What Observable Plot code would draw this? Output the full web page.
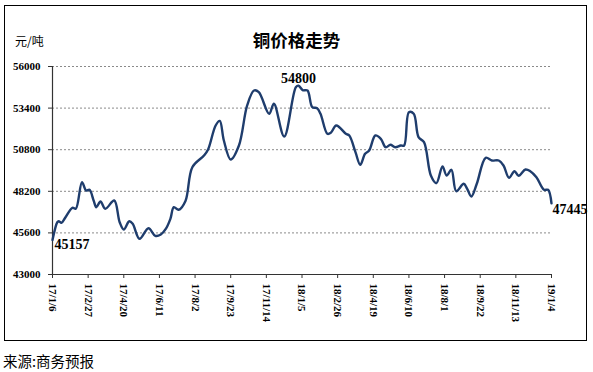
<!DOCTYPE html>
<html>
<head>
<meta charset="utf-8">
<script src="https://cdn.jsdelivr.net/npm/d3@7"></script>
<script src="https://cdn.jsdelivr.net/npm/@observablehq/plot@0.6"></script>
<style>
  html, body { margin: 0; padding: 0; background: #fff; }
  #wrap { position: relative; width: 593px; height: 372px; overflow: hidden; }
  #frame { position: absolute; left: 4px; top: 5px; width: 583px; height: 336px; box-sizing: border-box; border: 1.5px solid #000; pointer-events: none; }
  #chart { position: absolute; left: 0; top: 0; }
  #title { position: absolute; left: 0; width: 593px; top: 30px; text-align: center; font-family: "Noto Sans CJK SC", sans-serif; font-weight: bold; font-size: 17.5px; line-height: 20px; color: #000; }
  #unit { position: absolute; left: 15px; top: 33px; font-family: "Noto Sans CJK SC", sans-serif; font-size: 12px; line-height: 16px; color: #000; }
  #caption { position: absolute; left: 3px; top: 351px; font-family: "Noto Sans CJK SC", sans-serif; font-size: 14.5px; line-height: 20px; color: #000; }
</style>
</head>
<body>
<div id="wrap">
  <div id="chart"></div>
  <div id="title">铜价格走势</div>
  <div id="unit">元/吨</div>
  <div id="frame"></div>
  <div id="caption">来源:商务预报</div>
</div>
<script>
// ---- data ----
const dates = [
  "2017-01-06","2017-01-13","2017-01-15","2017-01-19","2017-01-25","2017-02-04","2017-02-09","2017-02-18",
  "2017-02-24","2017-03-01","2017-03-07","2017-03-11","2017-03-17","2017-03-24","2017-04-06","2017-04-14",
  "2017-04-20","2017-04-28","2017-05-03","2017-05-13","2017-05-26","2017-06-05","2017-06-13","2017-06-20",
  "2017-06-27","2017-07-02","2017-07-09","2017-07-19","2017-07-29","2017-08-15","2017-08-21","2017-09-01",
  "2017-09-07","2017-09-13","2017-09-23","2017-10-05","2017-10-17","2017-10-27","2017-11-03","2017-11-18",
  "2017-11-25","2017-12-10","2017-12-27","2017-12-31","2018-01-06","2018-01-13","2018-01-20","2018-01-27",
  "2018-02-01","2018-02-11","2018-02-16","2018-02-24","2018-03-10","2018-03-15","2018-03-24","2018-03-31",
  "2018-04-07","2018-04-13","2018-04-22","2018-04-30","2018-05-07","2018-05-14","2018-05-21","2018-05-29",
  "2018-06-03","2018-06-10","2018-06-17","2018-06-24","2018-07-02","2018-07-12","2018-07-20","2018-07-29",
  "2018-08-04","2018-08-11","2018-08-18","2018-08-29","2018-09-03","2018-09-09","2018-09-17","2018-09-30",
  "2018-10-09","2018-10-19","2018-10-26","2018-11-03","2018-11-11","2018-11-17","2018-11-27","2018-12-04",
  "2018-12-13","2018-12-24","2018-12-30","2019-01-04"
];
const prices = [
  45157,46269,46331,46230,46581,47169,47106,48769,
  48250,48294,47625,47206,47562,47106,47625,46269,
  45812,46331,46169,45231,45894,45419,45500,45831,
  46481,47206,47044,47600,49706,50438,50813,52313,
  52600,51375,50187,51063,53563,54500,54396,53044,
  53669,51625,54708,54800,54521,54500,53456,53394,
  53044,51794,51856,52313,51794,51687,50644,49856,
  50544,50750,51687,51481,50956,51106,50956,51062,
  51062,53144,53044,51583,51269,49187,48708,49750,
  49187,49544,48206,48669,48356,47875,48669,50294,
  50125,50125,49812,49044,49456,49169,49562,49456,
  49081,48294,48294,47445
];
const xTickDates = ["2017-01-06","2017-02-27","2017-04-20","2017-06-11","2017-08-02","2017-09-23","2017-11-14",
  "2018-01-05","2018-02-26","2018-04-19","2018-06-10","2018-08-01","2018-09-22","2018-11-13","2019-01-04"];
const xTickLabels = ["17/1/6","17/2/27","17/4/20","17/6/11","17/8/2","17/9/23","17/11/14",
  "18/1/5","18/2/26","18/4/19","18/6/10","18/8/1","18/9/22","18/11/13","19/1/4"];
const yTicks = [43000,45600,48200,50800,53400,56000];
const labelIdx = [0, 43, 91]; // first, peak, last

// ---- build ----
const parse = d3.utcParse("%Y-%m-%d");
const data = dates.map((d, i) => ({date: parse(d), price: prices[i]}));
const tickDates = xTickDates.map(parse);
const labelMap = new Map(tickDates.map((d, i) => [+d, xTickLabels[i]]));
const first = data[labelIdx[0]], peak = data[labelIdx[1]], last = data[labelIdx[2]];
const lineColor = "#1f3d6d";
const serif = "'Liberation Serif', 'Times New Roman', serif";

const chart = Plot.plot({
  width: 593,
  height: 345,
  marginLeft: 52,
  marginRight: 42,
  marginTop: 66,
  marginBottom: 71,
  style: {fontFamily: serif, fontSize: "11px", fontWeight: "bold", color: "#000", background: "transparent"},
  x: {type: "utc", domain: [tickDates[0], tickDates[tickDates.length - 1]]},
  y: {domain: [yTicks[0], yTicks[yTicks.length - 1]]},
  marks: [
    Plot.ruleY(yTicks.slice(1), {stroke: "#8a8a8a", strokeWidth: 1, strokeDasharray: "2,2"}),
    Plot.axisY({ticks: yTicks, tickSize: 4, tickPadding: 8, tickFormat: d => String(d), label: null, stroke: "#333"}),
    Plot.axisX({ticks: tickDates, tickSize: 4, tickPadding: 5, tickRotate: 90, tickFormat: d => labelMap.get(+d), label: null, stroke: "#333"}),
    Plot.ruleX([tickDates[0]], {stroke: "#333", strokeWidth: 1.2}),
    Plot.ruleY([yTicks[0]], {stroke: "#333", strokeWidth: 1.2}),
    Plot.line(data, {x: "date", y: "price", curve: "catmull-rom", stroke: lineColor, strokeWidth: 2.4}),
    Plot.text([first], {x: "date", y: "price", text: d => String(d.price), textAnchor: "start", lineAnchor: "top", dx: 2, dy: -1, fontSize: 14, fontWeight: "bold", fill: "#000"}),
    Plot.text([peak], {x: "date", y: "price", text: d => String(d.price), textAnchor: "middle", lineAnchor: "bottom", dx: 0, dy: -3, fontSize: 14, fontWeight: "bold", fill: "#000"}),
    Plot.text([last], {x: "date", y: "price", text: d => String(d.price), textAnchor: "start", lineAnchor: "top", dx: 1, dy: 1, fontSize: 14, fontWeight: "bold", fill: "#000"})
  ]
});
document.getElementById("chart").appendChild(chart);
</script>
</body>
</html>
